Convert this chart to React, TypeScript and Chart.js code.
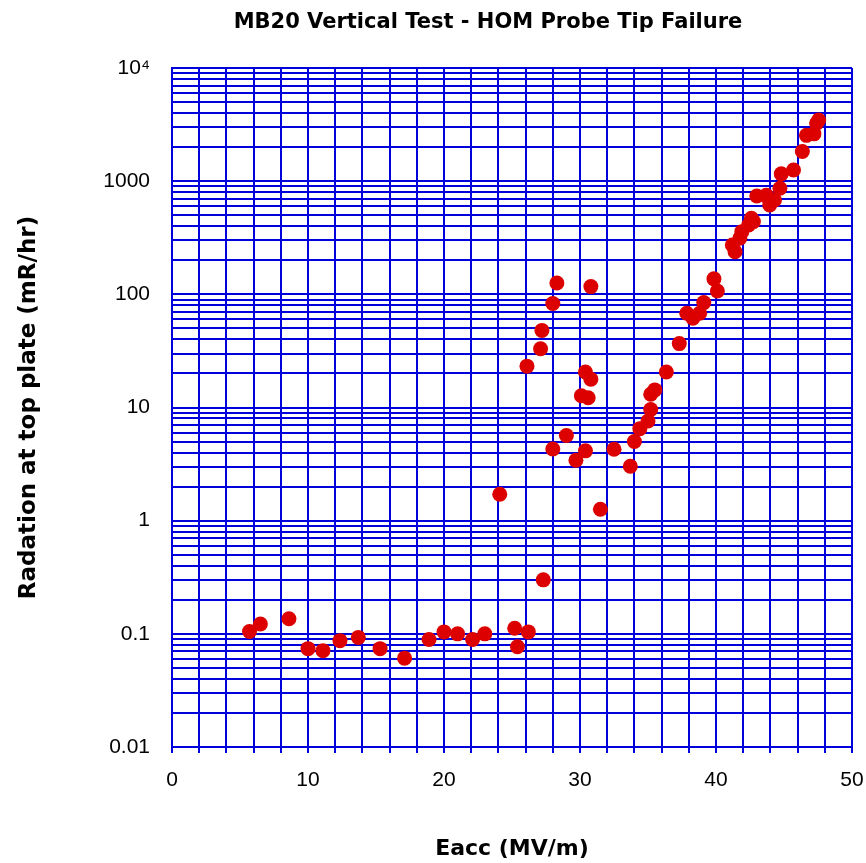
import React, { useEffect, useRef } from 'react';
import { Chart, registerables } from 'chart.js';

Chart.register(...registerables);

const TITLE = 'MB20 Vertical Test - HOM Probe Tip Failure';
const X_TITLE = 'Eacc (MV/m)';
const Y_TITLE = 'Radation at top plate (mR/hr)';

// Eacc (MV/m)
const eacc = [
  5.7, 6.5, 8.6, 10.0, 11.1, 12.35, 13.7, 15.3, 17.1, 18.9,
  20.0, 21.0, 22.1, 23.0, 25.2, 25.4, 26.2, 27.3, 24.1, 31.5,
  26.1, 27.1, 27.2, 28.0, 28.3, 30.8, 30.4, 30.8, 30.1, 30.6,
  28.0, 29.0, 29.7, 30.4, 32.5, 33.7, 34.0, 34.4, 35.0, 35.2,
  35.2, 35.5, 36.35, 37.3, 37.85, 38.3, 38.8, 39.1, 39.85, 40.1,
  41.2, 41.4, 41.75, 41.9, 42.4, 42.6, 42.75, 43.0, 43.7, 43.85,
  43.95, 44.3, 44.7, 44.8, 45.7, 46.35, 46.65, 47.2, 47.4, 47.55,
];

// Radiation at top plate (mR/hr)
const radiation = [
  0.105, 0.122, 0.136, 0.074, 0.071, 0.087, 0.093, 0.074, 0.061, 0.089,
  0.104, 0.1, 0.089, 0.1, 0.112, 0.077, 0.104, 0.3, 1.71, 1.26,
  23.2, 33, 48, 83, 126, 117, 20.6, 17.8, 12.7, 12.2,
  4.3, 5.65, 3.42, 4.14, 4.28, 3.03, 5.0, 6.5, 7.6, 9.6,
  13.1, 14.3, 20.6, 36.7, 68, 61.5, 68, 84.5, 137, 107,
  273, 238, 313, 358, 410, 470, 439, 740, 750, 706,
  616, 682, 865, 1160, 1256, 1830, 2540, 2620, 3250, 3470,
];

const yDecades = [0.01, 0.1, 1, 10, 100, 1000, 10000];
const yDecadeLabels = ['0.01', '0.1', '1', '10', '100', '1000', '10⁴'];
const xLabelValues = [0, 10, 20, 30, 40, 50];

const GRID = 'rgb(0,0,220)';

const mainTitlePlugin = {
  id: 'mainTitle',
  afterDraw(chart: any) {
    const ctx = chart.ctx;
    ctx.save();
    ctx.font = 'bold 21px "DejaVu Sans"';
    ctx.fillStyle = '#000';
    ctx.textAlign = 'center';
    ctx.textBaseline = 'middle';
    ctx.fillText(TITLE, 488, 23);
    ctx.restore();
  },
};

export default function App() {
  const ref = useRef<HTMLCanvasElement | null>(null);

  useEffect(() => {
    if (!ref.current) return;
    const points = eacc.map((x, i) => ({ x, y: radiation[i] }));
    const chart = new Chart(ref.current, {
      type: 'scatter',
      data: {
        datasets: [
          {
            data: points,
            backgroundColor: '#dd0000',
            borderWidth: 0,
            pointRadius: 7.5,
            pointHoverRadius: 7.5,
          },
        ],
      },
      plugins: [mainTitlePlugin],
      options: {
        animation: false,
        responsive: false,
        devicePixelRatio: 1,
        events: [],
        layout: { padding: { left: 0, right: 14, top: 68, bottom: 0 } },
        plugins: {
          legend: { display: false },
          tooltip: { enabled: false },
          title: { display: false },
        },
        scales: {
          x: {
            type: 'linear',
            min: 0,
            max: 50,
            afterFit: (s: any) => {
              s.height = 116;
              s.paddingLeft = 0;
              s.paddingRight = 0;
              s.paddingTop = 0;
              s.paddingBottom = 0;
            },
            grid: {
              color: GRID,
              lineWidth: 2,
              drawTicks: true,
              tickLength: 6,
              tickColor: GRID,
            },
            border: { display: true, color: GRID, width: 2 },
            ticks: {
              stepSize: 2,
              autoSkip: false,
              maxRotation: 0,
              padding: 15,
              color: '#000',
              font: { family: '"Liberation Sans"', size: 21 },
              callback: (v: any) => (xLabelValues.includes(Number(v)) ? String(v) : ''),
            },
            title: {
              display: true,
              text: X_TITLE,
              color: '#000',
              font: { family: '"DejaVu Sans"', size: 22, weight: 'bold' },
              padding: { top: 0, bottom: 1 },
            },
          },
          y: {
            type: 'logarithmic',
            min: 0.01,
            max: 10000,
            afterFit: (s: any) => {
              s.width = 172;
              s.paddingLeft = 0;
              s.paddingRight = 0;
              s.paddingTop = 0;
              s.paddingBottom = 0;
            },
            afterBuildTicks: (s: any) => {
              const t: any[] = [];
              for (let i = 0; i < yDecades.length - 1; i++) {
                for (let m = 1; m <= 9; m++) t.push({ value: yDecades[i] * m });
              }
              t.push({ value: yDecades[yDecades.length - 1] });
              s.ticks = t;
            },
            grid: {
              color: GRID,
              lineWidth: 2,
              drawTicks: false,
            },
            border: { display: true, color: GRID, width: 2 },
            ticks: {
              autoSkip: false,
              padding: 22,
              color: '#000',
              font: { family: '"Liberation Sans"', size: 21 },
              callback: (v: any) => {
                const n = Number(v);
                const idx = yDecades.findIndex((d) => Math.abs(n / d - 1) < 1e-6);
                return idx >= 0 ? yDecadeLabels[idx] : '';
              },
            },
            title: {
              display: true,
              text: Y_TITLE,
              color: '#000',
              font: { family: '"DejaVu Sans"', size: 23, weight: 'bold' },
              padding: { top: 15, bottom: 0 },
            },
          },
        },
      },
    });
    return () => chart.destroy();
  }, []);

  return (
    <div style={{ position: 'absolute', left: 0, top: 0, width: 866, height: 863, background: '#fff' }}>
      <canvas ref={ref} width={866} height={863} style={{ width: 866, height: 863 }} />
    </div>
  );
}
